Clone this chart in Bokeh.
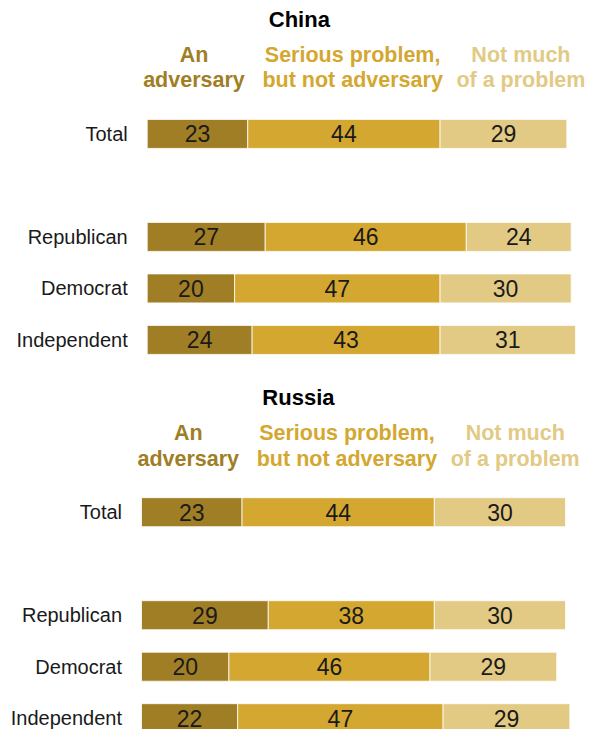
from bokeh.plotting import figure
from bokeh.layouts import column
from bokeh.models import Range1d, ColumnDataSource
from bokeh.core.properties import value
from bokeh.embed import file_html
from bokeh.resources import INLINE

# ---- data ----
groups = ["Total", "Republican", "Democrat", "Independent"]
row_index = [0, 2, 3, 4]  # blank row between Total and party groups
header_lines = [["An", "adversary"],
                ["Serious problem,", "but not adversary"],
                ["Not much", "of a problem"]]
colors = ["#a07e25", "#d4a730", "#e2ca84"]

china_adversary = [23, 27, 20, 24]
china_serious = [44, 46, 47, 43]
china_notmuch = [29, 24, 30, 31]

russia_adversary = [23, 29, 20, 22]
russia_serious = [44, 38, 46, 47]
russia_notmuch = [30, 30, 29, 29]

FONT = value("Liberation Sans")
UNIT = 4.371      # px per percentage point
ROW = 51.5        # px per row
W = 593


def panel(title, series, height, bar_left_px, first_center_px, title_px, h1_px, h2_px, title_x):
    x0 = -bar_left_px / UNIT
    top = -first_center_px / ROW
    p = figure(width=W, height=height, output_backend="svg", toolbar_location=None,
               x_range=Range1d(x0, x0 + W / UNIT),
               y_range=Range1d(top + height / ROW, top),
               min_border=0, min_border_left=0, min_border_right=0,
               min_border_top=0, min_border_bottom=0)
    p.axis.visible = False
    p.grid.visible = False
    p.outline_line_color = None
    p.background_fill_color = "white"
    p.border_fill_color = "white"

    lefts = [0] * len(groups)
    for vals, col in zip(series, colors):
        rights = [l + v for l, v in zip(lefts, vals)]
        mids = [(l + r) / 2 for l, r in zip(lefts, rights)]
        src = ColumnDataSource(dict(y=row_index, left=lefts, right=rights, mid=mids,
                                    lab=[str(v) for v in vals]))
        p.hbar(y="y", left="left", right="right", height=29 / ROW, source=src,
               fill_color=col, line_color="white", line_width=0.8)
        p.text(x="mid", y="y", text="lab", source=src, text_font=FONT,
               text_font_size="23px", text_color="#1a1a1a",
               text_align="center", text_baseline="middle")
        lefts = rights

    # category labels
    p.text(x=[-19.5 / UNIT] * len(groups), y=row_index, text=groups, text_font=FONT,
           text_font_size="20px", text_color="#1a1a1a", text_align="right",
           text_baseline="middle")

    # title
    p.text(x=[title_x], y=[top + title_px / ROW], text=[title], text_font=FONT,
           text_font_size="22px", text_font_style="bold", text_color="black",
           text_align="center", text_baseline="middle")

    # column headers
    hx = [10.7, 47.0, 85.5]
    for x, lines, col in zip(hx, header_lines, colors):
        p.text(x=[x, x], y=[top + h1_px / ROW, top + h2_px / ROW], text=lines,
               text_font=FONT, text_font_size="21.5px", text_font_style="bold",
               text_color=col, text_align="center", text_baseline="middle")
    return p


china = panel("China", [china_adversary, china_serious, china_notmuch], 379,
              146.7, 133.4, 19, 54, 79, 34.8)
russia = panel("Russia", [russia_adversary, russia_serious, russia_notmuch], 350,
               141.0, 132.7, 18, 53, 79, 35.9)

layout = column(china, russia, spacing=0)
open("out.html", "w").write(file_html(layout, INLINE))
